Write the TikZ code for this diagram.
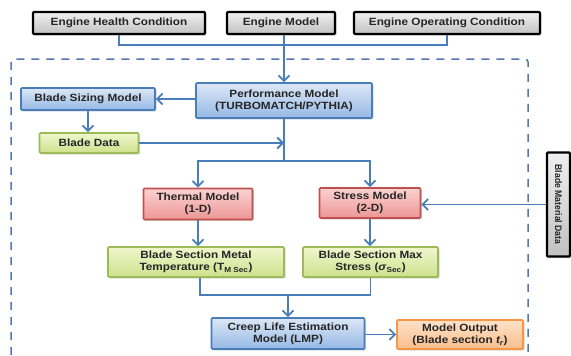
\documentclass[tikz,border=0pt]{standalone}
\usepackage{fontspec}
\setmainfont{Liberation Sans}
\newfontfamily\labfont[FakeStretch=1.12]{Liberation Sans}
\newfontfamily\vfont[FakeStretch=0.9]{Liberation Sans}
\usetikzlibrary{arrows.meta,shadows}
\definecolor{conncol}{HTML}{4A7EBB}
\definecolor{dashcol}{HTML}{5577B0}
\definecolor{txtcol}{HTML}{262626}
\tikzset{
  box/.style={draw, line width=1.6pt, rounded corners=1pt, align=center, inner sep=0pt,
    font=\labfont\bfseries\fontsize{10.5}{12.4}\selectfont, text=txtcol,
    drop shadow={opacity=0.3,shadow xshift=1.5pt,shadow yshift=-1.5pt}},
  graybox/.style={box, draw=black, line width=2.2pt, top color=black!6, bottom color=black!24},
  bluebox/.style={box, draw=conncol, top color={rgb,255:red,220;green,231;blue,245}, bottom color={rgb,255:red,150;green,185;blue,230}},
  greenbox/.style={box, draw={rgb,255:red,155;green,187;blue,89}, top color={rgb,255:red,240;green,246;blue,205}, bottom color={rgb,255:red,206;green,225;blue,140}},
  redbox/.style={box, draw={rgb,255:red,192;green,80;blue,77}, top color={rgb,255:red,251;green,210;blue,210}, bottom color={rgb,255:red,236;green,150;blue,148}},
  orangebox/.style={box, draw={rgb,255:red,247;green,150;blue,70}, top color={rgb,255:red,253;green,226;blue,200}, bottom color={rgb,255:red,249;green,190;blue,140}},
  conn/.style={draw=conncol, line width=1.8pt},
  arr/.style={conn, -{Straight Barb[length=5.5pt,width=11pt,line width=1.8pt]}},
  dashbox/.style={draw=dashcol, line width=1.5pt, dash pattern=on 8pt off 7pt, rounded corners=3pt}
}
\begin{document}
\begin{tikzpicture}[x=1pt,y=-1pt]
\useasboundingbox (0,0) rectangle (571,356);
\clip (0,0) rectangle (571,356);
\fill[white] (0,0) rectangle (571,356);
% dashed frame
\draw[dashbox] (11,370) -- (11,59) -- (528,59) -- (528,370);
% nodes
\node[graybox, minimum width=172pt, minimum height=22pt] (ehc) at (119,23) {Engine Health Condition};
\node[graybox, minimum width=108pt, minimum height=22pt] (em) at (281,23) {Engine Model};
\node[graybox, minimum width=186pt, minimum height=22pt] (eoc) at (447,23) {Engine Operating Condition};
\node[bluebox, minimum width=176pt, minimum height=35pt] (perf) at (284,100.5) {Performance Model\\(TURBOMATCH/PYTHIA)};
\node[bluebox, minimum width=134pt, minimum height=22pt] (bsm) at (88,99) {Blade Sizing Model};
\node[greenbox, minimum width=99pt, minimum height=20pt] (bd) at (89,143) {Blade Data};
\node[redbox, minimum width=109pt, minimum height=31pt] (therm) at (198,204) {Thermal Model\\(1-D)};
\node[redbox, minimum width=101pt, minimum height=30pt] (stress) at (370,203) {Stress Model\\(2-D)};
\node[graybox, rotate=-90, minimum width=104pt, minimum height=23pt, font=\vfont\bfseries\fontsize{9.6}{10}\selectfont] (bmd) at (558.5,204.5) {Blade Material Data};
\node[greenbox, minimum width=176pt, minimum height=30pt] (bsmt) at (196,262) {Blade Section Metal\\Temperature (T\textsubscript{M Sec})};
\node[greenbox, minimum width=135pt, minimum height=30pt] (bsms) at (370.5,262) {Blade Section Max\\Stress (\textit{σ}\textsubscript{Sec})};
\node[bluebox, minimum width=153pt, minimum height=31pt] (creep) at (288,333.5) {Creep Life Estimation\\Model (LMP)};
\node[orangebox, minimum width=126pt, minimum height=29pt] (out) at (460,334.5) {Model Output\\(Blade section \textit{t\textsubscript{r}})};
% connectors
\coordinate (bus) at (284,45);
\draw[conn] (ehc.south) |- (bus) -| (eoc.south);
\draw[arr] (perf.north |- em.south) -- (perf.north);
\draw[arr] (perf.west |- bsm.east) -- (bsm.east);
\draw[arr] (bsm.south) -- (bsm.south |- bd.north);
\coordinate (split) at (284,161);
\draw[conn] (perf.south) -- (split);
\draw[arr] (bd.east) -- (bd.east -| perf.south);
\draw[arr] (split) -| (therm.north);
\draw[arr] (split) -| (stress.north);
\draw[arr] (bmd.south) -- (bmd.south -| stress.east);
\draw[arr] (therm.south) -- (therm.south |- bsmt.north);
\draw[arr] (stress.south) -- (stress.south |- bsms.north);
\coordinate (merge) at (288,295);
\draw[conn] ([xshift=4pt]bsmt.south) |- (merge) -| (bsms.south);
\draw[arr] (merge) -- (creep.north);
\draw[arr] (creep.east |- out.west) -- (out.west);
\end{tikzpicture}
\end{document}
